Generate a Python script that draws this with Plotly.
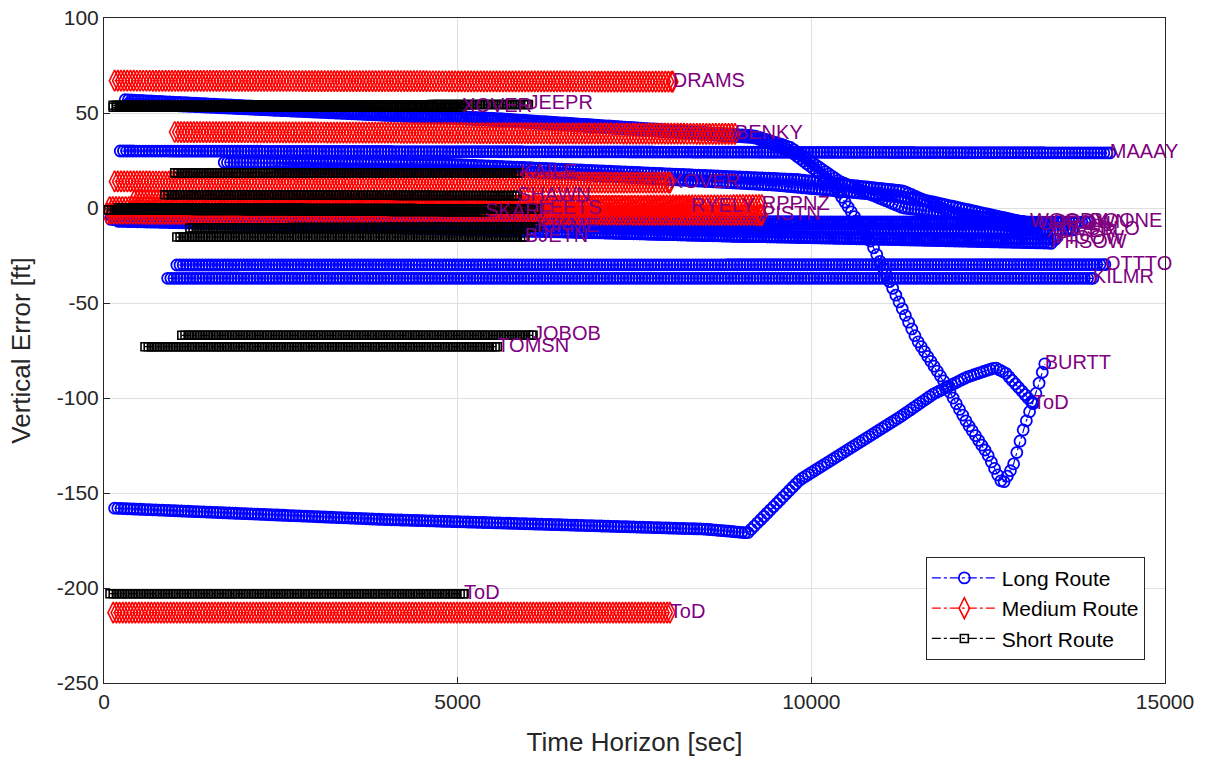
import numpy as np
import plotly.graph_objects as go

# ---------------- data ----------------
# Each track: label, knot times [sec], knot vertical errors [ft]
long_labels = ["WOODY", "BURTT", "MAAAY", "XOVER", "CHRON", "BOONE", "CROWN",
               "ESBLO", "PHSOW", "PIOOW", "OTTTO", "KILMR", "ToD"]
long_t = [
    [300, 5600, 9200, 9700, 10400, 11300, 13090],
    [350, 5600, 9200, 9700, 10300, 10830, 11494, 11862, 12200, 12484, 12668, 12710, 12850, 12993, 13190, 13300],
    [230, 14220],
    [1700, 4900, 9800, 11300, 12200, 13320],
    [2500, 6000, 9500, 11500, 13200],
    [100, 6000, 13940],
    [150, 7000, 13400],
    [100, 8000, 13700],
    [200, 8000, 13390],
    [150, 9000, 13450],
    [1030, 14150],
    [900, 13980],
    [150, 4000, 8500, 9100, 9840, 11254, 11720, 12200, 12600, 12750, 13135],
]
long_v = [
    [57, 47, 38, 32, 14, 0, -7.5],
    [55, 46, 37, 30, 13, -17, -69.5, -90.5, -113, -129, -143, -145, -136, -117, -96, -82],
    [30, 29],
    [24, 23, 15, 9, -6, -12.5],
    [21, 19, 12, 5, -9],
    [-4, -7, -7.5],
    [-5, -9, -8],
    [-6, -11, -11.5],
    [-7, -14, -18.5],
    [-6, -15, -16.5],
    [-30, -29.8],
    [-37, -37],
    [-158, -164, -169, -171, -143, -110, -98, -89, -84, -87, -103],
]

medium_labels = ["DRAMS", "BENKY", "XOVER", "RYELY", "RPPNZ", "PISTN", "ToD"]
medium_t = [
    [150, 8040],
    [1000, 8920],
    [150, 8000],
    [430, 8300],
    [80, 9300],
    [50, 9300],
    [130, 8000],
]
medium_v = [
    [67, 66.5],
    [40, 39],
    [14, 13.3],
    [4, 0.5],
    [0.5, 1.5],
    [-3, -3.7],
    [-213, -213],
]

short_labels = ["XOVER", "JEEPR", "KAILE", "SHAWN", "SKARF", "LEETS", "KIKME",
                "BJETN", "JOBOB", "TOMSN", "ToD"]
short_t = [
    [130, 5060],
    [130, 6000],
    [1000, 5880],
    [860, 5840],
    [60, 5390],
    [200, 6140],
    [1215, 6120],
    [1030, 5950],
    [1100, 6065],
    [580, 5560],
    [85, 5090],
]
short_v = [
    [53, 53],
    [54, 54.5],
    [18.5, 18.5],
    [7, 6.5],
    [-1, -2],
    [0, -0.5],
    [-10.5, -10],
    [-15.3, -15.3],
    [-67, -67],
    [-73, -73],
    [-203, -203],
]

x_ticks = [0, 5000, 10000, 15000]
y_ticks = [-250, -200, -150, -100, -50, 0, 50, 100]

# ---------------- figure ----------------
STEP = 45.0
FONT = "Liberation Sans, Arial, Helvetica, sans-serif"
LABEL_COLOR = "#800080"


def samples(kt, kv):
    t = np.arange(kt[0], kt[-1], STEP)
    t = np.append(t, kt[-1])
    return t, np.interp(t, kt, kv)


series = [
    ("Long Route", "#0000ff", "circle-open", 11, 1.8, long_labels, long_t, long_v),
    ("Medium Route", "#ff0000", "diamond-tall-open", 15, 1.6, medium_labels, medium_t, medium_v),
    ("Short Route", "#000000", "square-open", 8, 1.6, short_labels, short_t, short_v),
]

fig = go.Figure()
label_x, label_y, label_txt = [], [], []
for name, color, symbol, msize, mlw, labels, kts, kvs in series:
    for i, (lab, kt, kv) in enumerate(zip(labels, kts, kvs)):
        t, v = samples(kt, kv)
        fig.add_trace(go.Scatter(
            x=t, y=v, mode="lines+markers", name=name, legendgroup=name,
            showlegend=(i == 0),
            line=dict(color=color, width=1.2, dash="dashdot"),
            marker=dict(symbol=symbol, size=msize, color=color,
                        line=dict(color=color, width=mlw)),
            hoverinfo="skip",
        ))
        label_x.append(kt[-1])
        label_y.append(kv[-1])
        label_txt.append(lab)

fig.add_trace(go.Scatter(
    x=label_x, y=label_y, text=label_txt, mode="text",
    textposition="middle right", showlegend=False, hoverinfo="skip",
    cliponaxis=False,
    textfont=dict(family=FONT, size=20, color=LABEL_COLOR),
))

axis_common = dict(
    showline=True, mirror=True, linecolor="#262626", linewidth=1,
    ticks="inside", ticklen=6, tickcolor="#262626",
    showgrid=True, gridcolor="#e0e0e0", gridwidth=1, zeroline=False,
    tickfont=dict(family=FONT, size=21, color="#262626"),
    automargin=False, ticklabeloverflow="allow",
)

fig.update_layout(
    width=1207, height=762,
    margin=dict(l=104, r=42, t=18, b=79),
    paper_bgcolor="white", plot_bgcolor="white",
    font=dict(family=FONT, color="#262626"),
    xaxis=dict(range=[0, 15000], tickvals=x_ticks, ticktext=[str(v) for v in x_ticks],
               title=dict(text="Time Horizon [sec]", font=dict(family=FONT, size=26, color="#262626"),
                          standoff=20),
               **axis_common),
    yaxis=dict(range=[-250, 100], tickvals=y_ticks, ticktext=[str(v) for v in y_ticks],
               title=dict(text="Vertical Error [ft]", font=dict(family=FONT, size=26, color="#262626"),
                          standoff=18),
               **axis_common),
    legend=dict(x=0.981, xanchor="right", y=0.035, yanchor="bottom",
                bgcolor="white", bordercolor="#262626", borderwidth=1,
                font=dict(family=FONT, size=21, color="#000000"),
                itemwidth=65, tracegroupgap=0),
    showlegend=True,
)

# remove the default page margin so the figure fills the window exactly
fig.write_html("out.html",
               config={"displayModeBar": False},
               post_script="document.body.style.margin='0';document.body.style.overflow='hidden';")
